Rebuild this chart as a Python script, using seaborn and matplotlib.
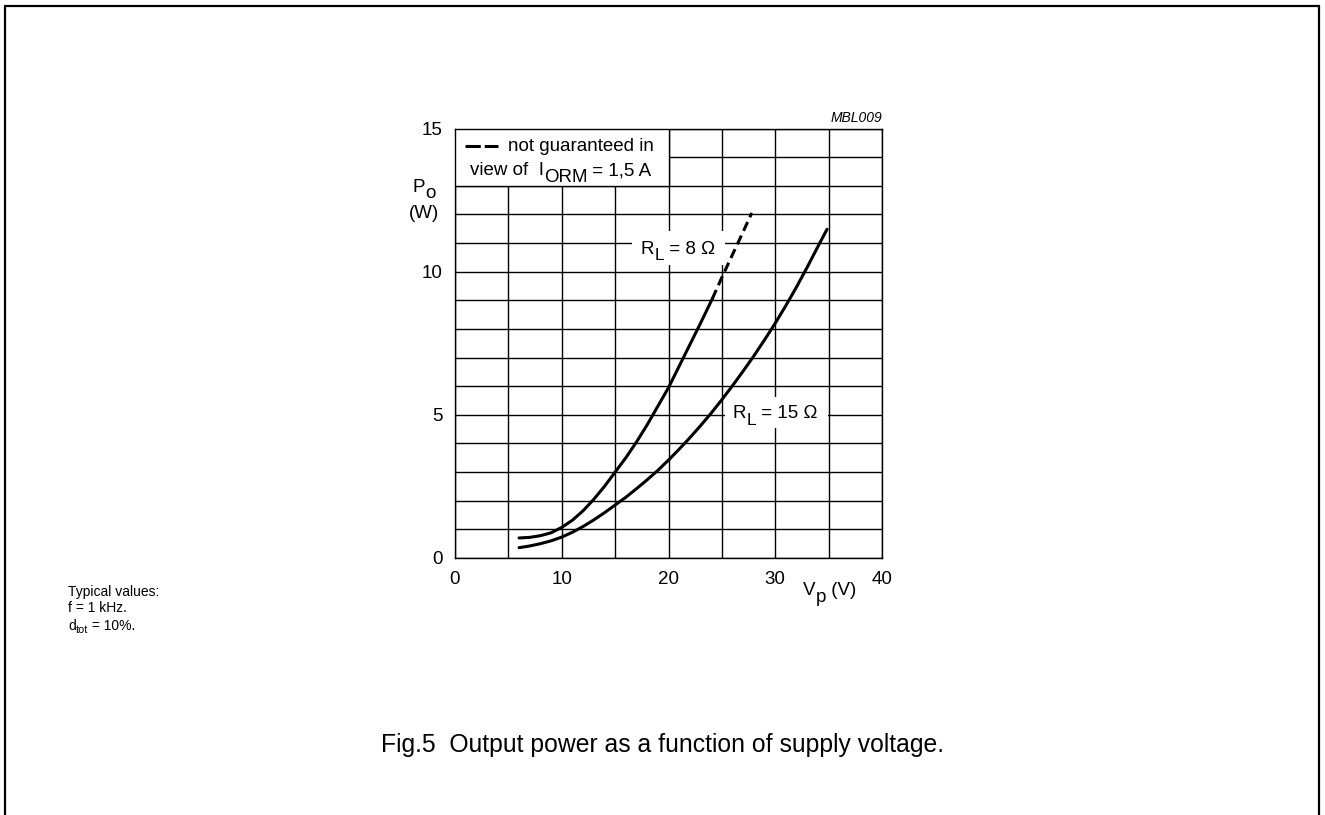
import numpy as np
import pandas as pd
import matplotlib
matplotlib.use("Agg")
import matplotlib.pyplot as plt
import seaborn as sns
from matplotlib.patches import Rectangle
from matplotlib.lines import Line2D
from matplotlib.transforms import offset_copy

# ---- data ----
rl8_v = [6, 7, 8, 9, 10, 11, 12, 13, 14, 15, 16, 17, 18, 19, 20, 21, 22, 23, 24.1]
rl8_p = [0.70, 0.72, 0.78, 0.88, 1.07, 1.32, 1.65, 2.05, 2.50, 3.00, 3.50, 4.05,
         4.65, 5.30, 5.95, 6.70, 7.45, 8.20, 9.05]
rl8_dash_v = [24.1, 25, 26, 27, 27.8]
rl8_dash_p = [9.05, 9.80, 10.60, 11.40, 12.05]
rl15_v = [6, 7, 8, 9, 10, 11, 12, 13, 14, 15, 16, 17, 18, 19, 20, 21, 22, 23, 24,
          25, 26, 27, 28, 29, 30, 31, 32, 33, 34, 34.85]
rl15_p = [0.36, 0.42, 0.50, 0.60, 0.73, 0.90, 1.10, 1.33, 1.58, 1.85, 2.12, 2.42,
          2.73, 3.06, 3.42, 3.80, 4.20, 4.62, 5.06, 5.53, 6.02, 6.53, 7.06, 7.62,
          8.20, 8.82, 9.47, 10.16, 10.88, 11.48]
x_ticks = [0, 10, 20, 30, 40]
y_ticks = [0, 5, 10, 15]
x_minor = [0, 5, 10, 15, 20, 25, 30, 35, 40]
y_minor = list(range(0, 16))

df8 = pd.DataFrame({"V": rl8_v, "P": rl8_p})
df8d = pd.DataFrame({"V": rl8_dash_v, "P": rl8_dash_p})
df15 = pd.DataFrame({"V": rl15_v, "P": rl15_p})

sns.set_theme(style="white")
plt.rcParams['font.family'] = ['Liberation Sans', 'DejaVu Sans']
plt.rcParams['text.color'] = 'black'
plt.rcParams['axes.labelcolor'] = 'black'
plt.rcParams['xtick.color'] = 'black'
plt.rcParams['ytick.color'] = 'black'

W, H = 1325, 815
DPI = 100
fig = plt.figure(figsize=(W / DPI, H / DPI), dpi=DPI)
fig.patch.set_facecolor("white")
ax = fig.add_axes([455 / W, 1 - 558 / H, (882 - 455) / W, (558 - 128.5) / H])
renderer = fig.canvas.get_renderer()


def text_width_pts(s, size):
    t = fig.text(0, 0, "|" + s + "|", fontsize=size)
    w1 = t.get_window_extent(renderer).width
    t.set_text("||")
    w0 = t.get_window_extent(renderer).width
    t.remove()
    return (w1 - w0) * 72 / DPI


def rich(x, y, parts, transform, size, ha="left", zorder=5):
    """parts: list of (string, size_scale, baseline_shift_in_em)."""
    widths = [text_width_pts(s, size * sc) for s, sc, _ in parts]
    total = sum(widths)
    off = {"left": 0.0, "center": -total / 2, "right": -total}[ha]
    for (s, sc, dy), w in zip(parts, widths):
        tr = offset_copy(transform, fig=fig, x=off, y=dy * size, units="points")
        fig.text(x, y, s, transform=tr, fontsize=size * sc, ha="left",
                 va="baseline", zorder=zorder)
        off += w


lw_curve = 2.2
sns.lineplot(data=df8, x="V", y="P", ax=ax, color="black", lw=lw_curve,
             estimator=None, sort=False, zorder=4)
sns.lineplot(data=df8d, x="V", y="P", ax=ax, color="black", lw=lw_curve,
             estimator=None, sort=False, zorder=4, linestyle=(0, (3.2, 1.7)))
sns.lineplot(data=df15, x="V", y="P", ax=ax, color="black", lw=lw_curve,
             estimator=None, sort=False, zorder=4)

ax.set_xlim(0, 40)
ax.set_ylim(0, 15)
ax.set_xticks(x_ticks)
ax.set_yticks(y_ticks)
ax.set_xticks(x_minor, minor=True)
ax.set_yticks(y_minor, minor=True)
ax.grid(which="both", color="black", lw=1.0)
ax.set_axisbelow(True)
ax.tick_params(which="both", length=0, labelsize=13.5, colors="black", pad=9)
ax.set_xlabel("")
ax.set_ylabel("")
for s in ax.spines.values():
    s.set_color("black")
    s.set_linewidth(1.0)

FS = 13.5
# legend box
ax.add_patch(Rectangle((0, 13), 20, 2, facecolor="white", edgecolor="black",
                       lw=1.0, zorder=3))
ax.add_line(Line2D([0.95, 4.05], [14.38, 14.38], color="black", lw=lw_curve,
                   linestyle=(0, (5, 1.3)), zorder=5))
ax.text(4.95, 14.2, "not guaranteed in", fontsize=FS, va="baseline",
        ha="left", zorder=5)
rich(1.4, 13.36, [("view of  I", 1.0, 0.0), ("ORM", 1.0, -0.37),
                  (" = 1,5 A", 1.0, 0.0)], ax.transData, FS)

# curve labels with white backgrounds
ax.add_patch(Rectangle((16.6, 10.22), 8.7, 1.2, facecolor="white",
                       edgecolor="none", zorder=3))
ax.add_patch(Rectangle((25.3, 4.53), 9.65, 1.08, facecolor="white",
                       edgecolor="none", zorder=3))
rich(17.42, 10.63, [("R", 1.0, 0.0), ("L", 0.92, -0.36), (" = 8 Ω", 1.0, 0.0)],
     ax.transData, FS)
rich(26.04, 4.88, [("R", 1.0, 0.0), ("L", 0.92, -0.36), (" = 15 Ω", 1.0, 0.0)],
     ax.transData, FS)

# axis labels
rich(413 / W, 1 - 192 / H, [("P", 1.0, 0.0), ("o", 1.0, -0.32)],
     fig.transFigure, FS)
fig.text(424 / W, 1 - 214 / H, "(W)", fontsize=FS, ha="center", va="center")
rich(803 / W, 1 - 595 / H, [("V", 1.0, 0.0), ("p", 1.0, -0.36),
                            (" (V)", 1.0, 0.0)], fig.transFigure, FS)
fig.text(882 / W, 1 - 118 / H, "MBL009", fontsize=10, style="italic",
         ha="right", va="center")

# notes
fig.text(68 / W, 1 - 592 / H, "Typical values:", fontsize=10, ha="left",
         va="center")
fig.text(68 / W, 1 - 608.5 / H, "f = 1 kHz.", fontsize=10, ha="left",
         va="center")
rich(68 / W, 1 - 629.5 / H, [("d", 1.0, 0.0), ("tot", 0.78, -0.22),
                             (" = 10%.", 1.0, 0.0)], fig.transFigure, 10)
fig.text(662.5 / W, 1 - 745 / H,
         "Fig.5  Output power as a function of supply voltage.",
         fontsize=17.8, ha="center", va="center")

# page border
bx_l, bx_r, by_t = 4.7 / W, 1319.3 / W, 1 - 5.7 / H
for xs, ys in [([bx_l, bx_l], [0, by_t]), ([bx_l, bx_r], [by_t, by_t]),
               ([bx_r, bx_r], [by_t, 0])]:
    fig.add_artist(Line2D(xs, ys, transform=fig.transFigure, color="black",
                          lw=1.6))

fig.savefig("out.png", dpi=DPI, facecolor="white")
